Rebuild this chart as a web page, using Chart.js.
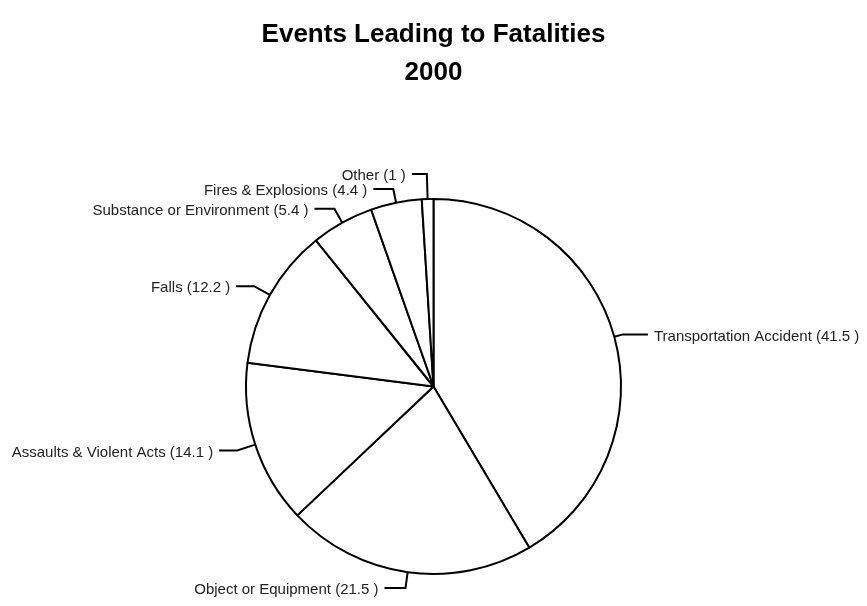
<!DOCTYPE html>
<html>
<head>
<meta charset="utf-8">
<title>Events Leading to Fatalities 2000</title>
<script src="https://cdn.jsdelivr.net/npm/chart.js@4"></script>
<style>
    html, body { margin: 0; padding: 0; background: #ffffff; }
    #wrap { width: 867px; height: 606px; }
</style>
</head>
<body>
<div id="wrap"><canvas id="fatalities-chart"></canvas></div>
<script>
// Datos del gráfico
const categories = [
    "Transportation Accident",
    "Object or Equipment",
    "Assaults & Violent Acts",
    "Falls",
    "Substance or Environment",
    "Fires & Explosions",
    "Other"
];
const percentValues = [41.5, 21.5, 14.1, 12.2, 5.4, 4.4, 1];
const titleLines = ["Events Leading to Fatalities", "2000"];

(function () {
    "use strict";

    // Largo de cada línea guía: tramo radial y tramo horizontal (px)
    const leaderRadial = [9, 16, 19, 18, 16, 14, 25];
    const leaderFlat = [25, 21, 18, 18, 20, 20, 15];

    // Etiquetas con líneas guía (estilo Excel)
    const leaderLabels = {
        id: "leaderLabels",
        afterDatasetsDraw(chart) {
            const ctx = chart.ctx;
            const meta = chart.getDatasetMeta(0);
            const values = chart.data.datasets[0].data;

            ctx.save();
            ctx.strokeStyle = "#000000";
            ctx.lineWidth = 2;
            ctx.fillStyle = "#222222";
            ctx.font = "15px 'Liberation Sans', Arial, sans-serif";
            ctx.textBaseline = "middle";

            meta.data.forEach((arc, i) => {
                const p = arc.getProps(["x", "y", "startAngle", "endAngle", "outerRadius"], true);
                const mid = (p.startAngle + p.endAngle) / 2;
                const cos = Math.cos(mid);
                const sin = Math.sin(mid);
                const px = p.x + cos * p.outerRadius;
                const py = p.y + sin * p.outerRadius;
                const ex = p.x + cos * (p.outerRadius + leaderRadial[i]);
                const ey = p.y + sin * (p.outerRadius + leaderRadial[i]);
                const side = cos >= 0 ? 1 : -1;
                const hx = ex + side * leaderFlat[i];

                ctx.beginPath();
                ctx.moveTo(px, py);
                ctx.lineTo(ex, ey);
                ctx.lineTo(hx, ey);
                ctx.stroke();

                ctx.textAlign = side > 0 ? "left" : "right";
                ctx.fillText(`${chart.data.labels[i]} (${values[i]} )`, hx + side * 6, ey + 2);
            });
            ctx.restore();
        }
    };

    new Chart(document.getElementById("fatalities-chart"), {
        type: "pie",
        data: {
            labels: categories,
            datasets: [{
                data: percentValues,
                backgroundColor: "#ffffff",
                borderColor: "#000000",
                borderWidth: 2,
                borderAlign: "center"
            }]
        },
        options: {
            responsive: true,
            maintainAspectRatio: false,
            animation: false,
            events: [],
            layout: {
                padding: { top: 0, bottom: 31, left: 0, right: 0 }
            },
            plugins: {
                legend: { display: false },
                tooltip: { enabled: false },
                title: {
                    display: true,
                    text: titleLines,
                    color: "#000000",
                    font: {
                        family: "'Liberation Sans', Arial, sans-serif",
                        size: 26,
                        weight: "bold",
                        lineHeight: 1.45
                    },
                    padding: { top: 16, bottom: 106.6 }
                }
            }
        },
        plugins: [leaderLabels]
    });
})();
</script>
</body>
</html>
